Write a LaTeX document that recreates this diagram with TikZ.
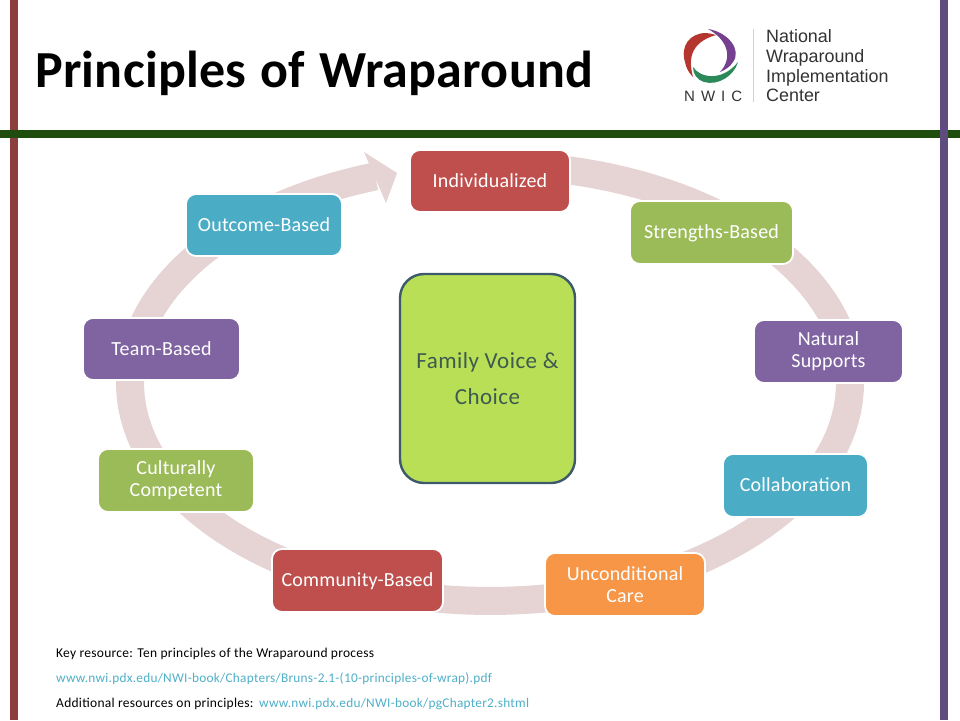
\documentclass[tikz,border=0pt]{standalone}
\usepackage{fontspec}
\setmainfont{Carlito}
\newfontfamily\logofont{Liberation Sans}
\newfontfamily\boxfont[LetterSpace=1]{Carlito}
\newfontfamily\footfont[LetterSpace=2]{Carlito}
\newfontfamily\titlefont[LetterSpace=0.5]{Carlito}
\newfontfamily\centrefont[LetterSpace=2]{Carlito}
\definecolor{cred}{HTML}{BE4F4C}
\definecolor{cgreen}{HTML}{9BBB59}
\definecolor{cpurple}{HTML}{8064A2}
\definecolor{cblue}{HTML}{4BACC6}
\definecolor{corange}{HTML}{F79646}
\definecolor{ring}{HTML}{E6D3D3}
\definecolor{barred}{HTML}{8C3F3D}
\definecolor{barpurple}{HTML}{5F4B80}
\definecolor{bargreen}{HTML}{1F4D0E}
\definecolor{lime}{HTML}{B8DF56}
\definecolor{limeedge}{HTML}{3C5A6B}
\definecolor{limetext}{HTML}{3F5A50}
\definecolor{linkc}{HTML}{4FB0C8}
\definecolor{logored}{HTML}{B5352F}
\definecolor{logopurple}{HTML}{74408F}
\definecolor{logogreen}{HTML}{2C8A5A}
\tikzset{
 x=1pt,y=-1pt,
 pbox/.style={rounded corners=10pt,draw=white,line width=1.8pt,text=white,align=center,
   font=\boxfont\fontsize{20}{22}\selectfont,inner sep=0pt,anchor=center},
 oneline/.style={text height=14.5pt,text depth=2.5pt},
 foot/.style={anchor=base west,inner sep=0pt,font=\footfont\fontsize{13.5}{14}\selectfont},
 linkfoot/.style={anchor=base west,inner sep=0pt,text=linkc,font=\footfont\fontsize{13.3}{14}\selectfont},
 logot/.style={anchor=base west,inner sep=0pt,text=black!80,font=\logofont\fontsize{17.9}{20}\selectfont},
}
\begin{document}
\begin{tikzpicture}
\useasboundingbox[fill=white] (0,0) rectangle (960,720);
% frame bars
\fill[barred] (9.5,0) rectangle (17.5,720);
\fill[bargreen] (0,130) rectangle (960,138);
\fill[barpurple] (940,0) rectangle (948,720);
% title
\node[anchor=base west,inner sep=0pt,font=\titlefont\bfseries\fontsize{52}{56}\selectfont] (title) at (35,87) {Principles\hspace{2pt} of\hspace{2pt} Wraparound};
% logo
\fill[logored] (706,33) .. controls (690,33) and (680,46) .. (685,62) .. controls (686,68) and (689,73) .. (693,77) .. controls (689,62) and (688,43) .. (716,35) .. controls (712,34) and (709,33) .. (706,33) -- cycle;
\fill[logopurple] (708,29) .. controls (728,32) and (742,50) .. (733,62) .. controls (730,67) and (725,70) .. (720,72) .. controls (733,58) and (728,40) .. (708,29) -- cycle;
\fill[logogreen] (693,67) .. controls (700,78) and (722,82) .. (738,62) .. controls (734,76) and (718,86) .. (704,82) .. controls (697,80) and (693,74) .. (693,67) -- cycle;
\draw[black!18,line width=0.8pt] (753,29) -- (753,102);
\node[anchor=base west,inner sep=0pt,text=black!80,font=\logofont\fontsize{15}{16}\selectfont] (nwic) at (684,101) {N\hspace{6pt}W\hspace{6pt}I\hspace{6pt}C};
\node[logot] (l1) at (766,42) {National};
\node[logot] (l2) at (766,62) {Wraparound};
\node[logot] (l3) at (766,82) {Implementation};
\node[logot] (l4) at (766,101) {Center};
% ring arrow
\draw[ring,line width=28pt] plot[samples=140,domain=-85:251.4] ({490+360*cos(\x)},{383+218*sin(\x)});
\fill[ring] (364,152) -- (397,173) -- (386,203) -- cycle;
% boxes
\node[pbox,oneline,fill=cred,minimum width=160pt,minimum height=62pt] (n1) at (490,181) {Individualized};
\node[pbox,oneline,fill=cgreen,minimum width=163pt,minimum height=63pt] (n2) at (711.5,232.5) {Strengths-Based};
\node[pbox,fill=cpurple,minimum width=149pt,minimum height=63pt] (n3) at (828.5,351.5) {Natural\\Supports};
\node[pbox,oneline,fill=cblue,minimum width=145pt,minimum height=63pt] (n4) at (795.5,485.5) {Collaboration};
\node[pbox,fill=corange,minimum width=160pt,minimum height=63pt] (n5) at (625,584.5) {Unconditional\\Care};
\node[pbox,oneline,fill=cred,minimum width=171pt,minimum height=63pt] (n6) at (357.5,580.5) {Community-Based};
\node[pbox,fill=cgreen,minimum width=156pt,minimum height=63pt] (n7) at (176,480.5) {Culturally\\Competent};
\node[pbox,oneline,fill=cpurple,minimum width=157pt,minimum height=62pt] (n8) at (161.5,349) {Team-Based};
\node[pbox,oneline,fill=cblue,minimum width=156pt,minimum height=62pt] (n9) at (264,225) {Outcome-Based};
% centre
\node[rounded corners=24pt,draw=limeedge,fill=lime,line width=2.4pt,minimum width=175pt,minimum height=209pt,
  align=center,inner sep=0pt,text=limetext,font=\centrefont\fontsize{23}{36}\selectfont] (c) at (487.5,378.5) {Family Voice \&\\Choice};
% footer
\node[foot] (f1) at (56,657) {Key resource: Ten principles of the Wraparound process};
\node[linkfoot] (f2) at (56,682) {www.nwi.pdx.edu/NWI-book/Chapters/Bruns-2.1-(10-principles-of-wrap).pdf};
\node[foot] (f3) at (56,707) {Additional resources on principles:};
\node[linkfoot] (f4) at (259,707) {www.nwi.pdx.edu/NWI-book/pgChapter2.shtml};
\end{tikzpicture}
\end{document}
